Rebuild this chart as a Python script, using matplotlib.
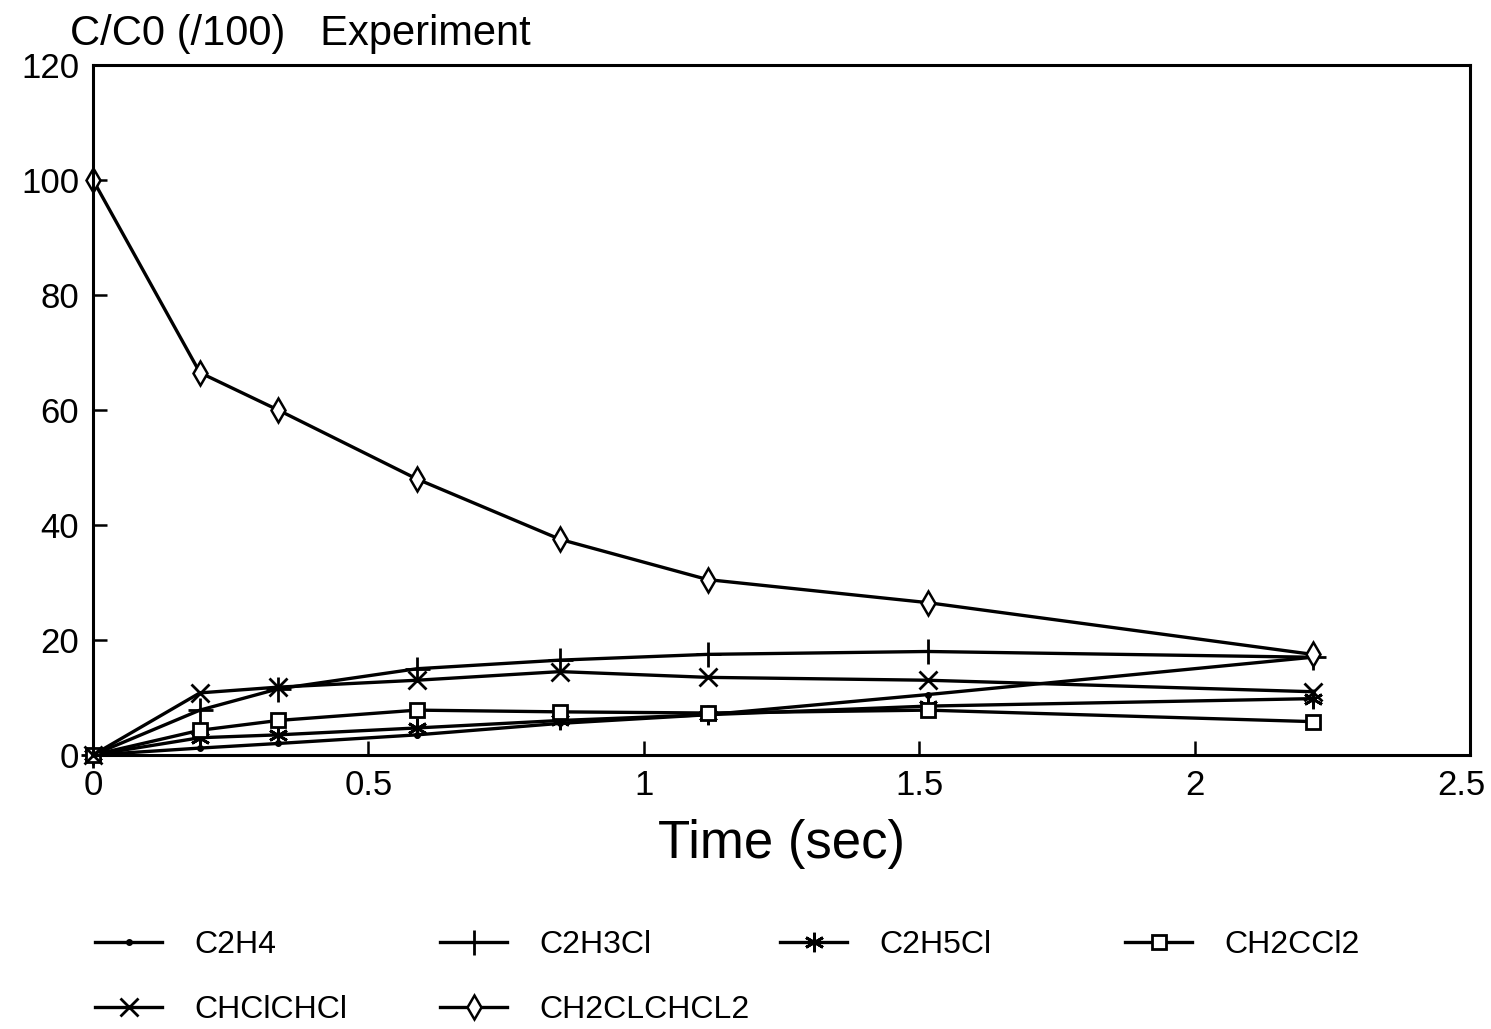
import matplotlib
matplotlib.use('Agg')
import matplotlib.pyplot as plt
import matplotlib.transforms as mtransforms

plt.rcParams['font.family'] = ['Liberation Sans', 'DejaVu Sans']

# Data
time_s = [0, 0.194, 0.336, 0.588, 0.848, 1.116, 1.515, 2.214]

c2h4 = [0, 1.2, 2.0, 3.5, 5.5, 7.0, 10.5, 17.0]
c2h3cl = [0, 7.8, 11.5, 15.0, 16.5, 17.5, 18.0, 17.0]
c2h5cl = [0, 3.0, 3.5, 4.7, 6.0, 7.0, 8.5, 9.8]
ch2ccl2 = [0, 4.3, 6.0, 7.8, 7.5, 7.3, 7.8, 5.8]
chclchcl = [0, 10.8, 11.8, 13.0, 14.5, 13.5, 13.0, 11.0]
ch2clchcl2 = [100, 66.5, 60.0, 48.0, 37.5, 30.5, 26.5, 17.5]

labels = ['C2H4', 'C2H3Cl', 'C2H5Cl', 'CH2CCl2', 'CHClCHCl', 'CH2CLCHCL2']
series = [c2h4, c2h3cl, c2h5cl, ch2ccl2, chclchcl, ch2clchcl2]

x_ticks = [0, 0.5, 1, 1.5, 2, 2.5]
x_ticklabels = ['0', '0.5', '1', '1.5', '2', '2.5']
y_ticks = [0, 20, 40, 60, 80, 100, 120]

# marker styles: dot, plus, asterisk, open square, x, open thin diamond
styles = [
    dict(marker='.', ms=8),
    dict(marker='+', ms=18, mew=2),
    dict(marker=(6, 2, 0), ms=14, mew=2),
    dict(marker='s', ms=10, mfc='white', mew=2),
    dict(marker='x', ms=13, mew=2),
    dict(marker='d', ms=12, mfc='white', mew=1.8),
]

fig = plt.figure(figsize=(14.91, 10.29), dpi=100)
ax = fig.add_axes([0.0624, 0.2663, 0.9236, 0.6705])

handles = []
for vals, st in zip(series, styles):
    ln, = ax.plot(time_s, vals, color='black', lw=2.4, mec='black', clip_on=False, **st)
    handles.append(ln)

ax.set_xlim(0, 2.5)
ax.set_ylim(0, 120)
ax.set_xticks(x_ticks)
ax.set_xticklabels(x_ticklabels)
ax.set_yticks(y_ticks)
ax.tick_params(direction='in', length=10, width=1.8, labelsize=25, pad=10)
for sp in ax.spines.values():
    sp.set_linewidth(2.2)

# nudge the last x label so it stays inside the canvas
last = ax.get_xticklabels()[-1]
last.set_transform(last.get_transform() + mtransforms.ScaledTranslation(-6 / 72, 0, fig.dpi_scale_trans))

ax.set_xlabel('Time (sec)', fontsize=38, labelpad=12)
fig.text(0.047, 0.967, 'C/C0 (/100)   Experiment', fontsize=30, va='center', ha='left')

# legend: two rows, four columns, placed as in the original
leg_pos = [(95, 945), (440, 945), (780, 945), (1125, 945), (95, 1010), (440, 1010)]
for h, lab, (px, py) in zip(handles, labels, leg_pos):
    fig.legend([h], [lab], loc='center left', bbox_to_anchor=(px / 1491, 1 - py / 1029),
               frameon=False, fontsize=23, handlelength=2.1, handletextpad=1.0,
               borderpad=0, borderaxespad=0, numpoints=1)

fig.savefig('out.png', dpi=100, facecolor='white')
